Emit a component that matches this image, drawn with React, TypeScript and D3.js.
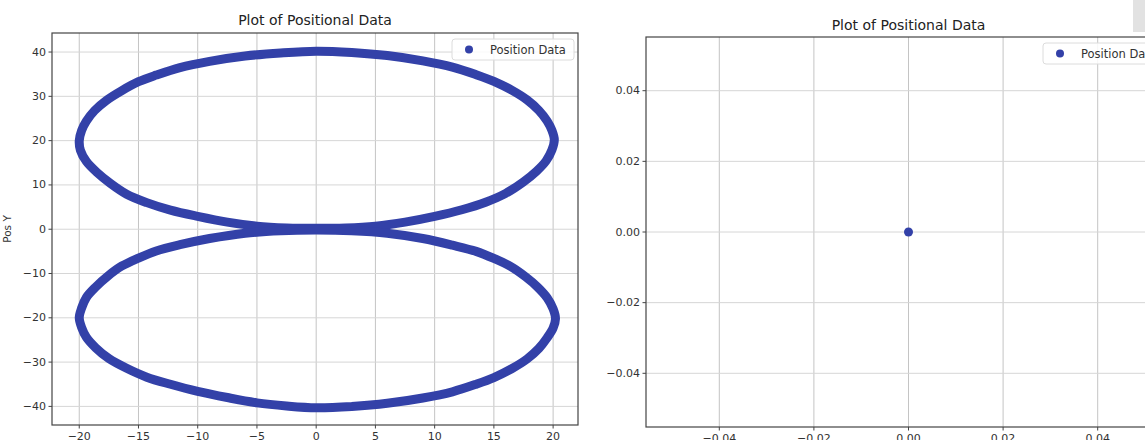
import React from "react";
import * as d3 from "d3";

// positional data: upper loop then lower loop
const upperX = [0, 3, 6, 9, 11.5, 13.5, 15, 16.5, 17.8, 18.8, 19.5, 19.9, 20.1, 19.9, 19.4, 18.6, 17.5, 16, 14.3, 12.3, 10, 7.5, 5, 2.5, 0, -2.5, -5, -7.5, -10, -12.3, -14.3, -16, -17.4, -18.5, -19.4, -19.9, -20, -19.8, -19.4, -18.7, -17.7, -16.4, -15, -13.5, -11.5, -9, -6, -3];
const upperY = [40.2, 39.9, 39.2, 38, 36.6, 34.9, 33.4, 31.4, 29.2, 26.8, 24.4, 22.3, 20.2, 17.9, 15.4, 13.1, 10.7, 8.1, 6.1, 4.4, 2.9, 1.6, 0.7, 0.3, 0.2, 0.3, 0.7, 1.6, 2.9, 4.3, 6, 7.9, 10.4, 12.8, 15.3, 17.8, 20, 22.3, 24.4, 26.8, 29.1, 31.3, 33.3, 34.8, 36.5, 37.9, 39.1, 39.8];
const lowerX = [0, 3, 6, 9, 11.5, 13.5, 15, 16.5, 17.8, 18.8, 19.5, 20, 20.2, 20, 19.5, 18.7, 17.7, 16.4, 15, 13.5, 11.5, 9, 6, 3, 0, -3, -6, -9, -11.5, -13.5, -15, -16.4, -17.6, -18.6, -19.4, -19.8, -20, -19.8, -19.4, -18.6, -17.5, -16, -14.3, -12.3, -10, -7.5, -5, -2.5];
const lowerY = [-40.3, -40, -39.3, -38.1, -36.7, -35, -33.5, -31.5, -29.3, -26.9, -24.5, -22.3, -20.2, -18, -15.5, -13.1, -10.8, -8.4, -6.6, -5, -3.6, -2.1, -0.9, -0.35, -0.2, -0.35, -0.9, -2.1, -3.5, -4.9, -6.5, -8.3, -10.6, -13, -15.4, -17.8, -20, -22.2, -24.4, -26.8, -29.2, -31.4, -33.4, -35, -36.6, -38, -39.2, -39.9];

// second plot: a single sample
const singleX = [0];
const singleY = [0];

const leftXTicks = [-20, -15, -10, -5, 0, 5, 10, 15, 20];
const leftYTicks = [-40, -30, -20, -10, 0, 10, 20, 30, 40];
const rightTicks = [-0.04, -0.02, 0, 0.02, 0.04];

const title = "Plot of Positional Data";
const legendLabel = "Position Data";
const yLabel = "Pos Y";

const dotColor = "#3341a8";
const font = "DejaVu Sans, sans-serif";

const fmtMinus = (s: string) => s.replace("-", "\u2212");

type PanelProps = {
  box: { left: number; right: number; top: number; bottom: number };
  xDomain: [number, number];
  yDomain: [number, number];
  xTicks: number[];
  yTicks: number[];
  fmt: (v: number) => string;
  legendX: number;
  legendY: number;
  titleY: number;
  ylabel?: string;
  children: (x: d3.ScaleLinear<number, number>, y: d3.ScaleLinear<number, number>) => React.ReactNode;
};

const Panel = (props: PanelProps) => {
  const { box, xDomain, yDomain, xTicks, yTicks, fmt, legendX, legendY, titleY } = props;
  const x = d3.scaleLinear().domain(xDomain).range([box.left, box.right]);
  const y = d3.scaleLinear().domain(yDomain).range([box.bottom, box.top]);
  const clipId = "clip" + Math.round(box.left);

  return (
    <g>
      <defs>
        <clipPath id={clipId}>
          <rect x={box.left} y={box.top} width={box.right - box.left} height={box.bottom - box.top} />
        </clipPath>
      </defs>
      <rect x={box.left} y={box.top} width={box.right - box.left} height={box.bottom - box.top} fill="#fff" />
      {/* grid */}
      {xTicks.map((t) => (
        <line key={"gx" + t} x1={x(t)} x2={x(t)} y1={box.top} y2={box.bottom} stroke="#c4c4c4" strokeWidth={1} />
      ))}
      {yTicks.map((t) => (
        <line key={"gy" + t} x1={box.left} x2={box.right} y1={y(t)} y2={y(t)} stroke="#d6d6d6" strokeWidth={1} />
      ))}
      <g clipPath={`url(#${clipId})`}>{props.children(x, y)}</g>
      {/* frame */}
      <rect x={box.left} y={box.top} width={box.right - box.left} height={box.bottom - box.top} fill="none" stroke="#444" strokeWidth={1.2} />
      {/* ticks */}
      {xTicks.map((t) => (
        <g key={"tx" + t}>
          <line x1={x(t)} x2={x(t)} y1={box.bottom} y2={box.bottom + 3.5} stroke="#444" />
          <text x={x(t)} y={box.bottom + 7} dominantBaseline="hanging" textAnchor="middle" fontSize={11} fill="#333" fontFamily={font}>
            {fmtMinus(fmt(t))}
          </text>
        </g>
      ))}
      {yTicks.map((t) => (
        <g key={"ty" + t}>
          <line x1={box.left - 3.5} x2={box.left} y1={y(t)} y2={y(t)} stroke="#444" />
          <text x={box.left - 6} y={y(t)} dominantBaseline="central" textAnchor="end" fontSize={11} fill="#333" fontFamily={font}>
            {fmtMinus(fmt(t))}
          </text>
        </g>
      ))}
      <text x={(box.left + box.right) / 2} y={titleY} textAnchor="middle" dominantBaseline="central" fontSize={14} fill="#222" fontFamily={font}>
        {title}
      </text>
      {props.ylabel && (
        <text transform={`translate(7,${(box.top + box.bottom) / 2}) rotate(-90)`} textAnchor="middle" dominantBaseline="central" fontSize={10.5} fill="#333" fontFamily={font}>
          {props.ylabel}
        </text>
      )}
      {/* legend */}
      <g transform={`translate(${legendX},${legendY})`}>
        <rect x={0} y={0} width={122} height={21} rx={3} fill="#fff" fillOpacity={0.85} stroke="#dcdcdc" />
        <circle cx={17} cy={10.5} r={4} fill={dotColor} />
        <text x={38} y={10.5} dominantBaseline="central" fontSize={11.5} fill="#333" fontFamily={font}>
          {legendLabel}
        </text>
      </g>
    </g>
  );
};

export default function App() {
  const loops = [
    upperX.map((v, i) => [v, upperY[i]] as [number, number]),
    lowerX.map((v, i) => [v, lowerY[i]] as [number, number]),
  ];

  return (
    <svg width={1145} height={440} style={{ position: "absolute", left: 0, top: 0, background: "#fff" }}>
      <Panel
        box={{ left: 52, right: 578, top: 33, bottom: 425 }}
        xDomain={[-22.3, 22.1]}
        yDomain={[-44.2, 44.3]}
        xTicks={leftXTicks}
        yTicks={leftYTicks}
        fmt={(v) => String(v)}
        legendX={452}
        legendY={39}
        titleY={20}
        ylabel={yLabel}
      >
        {(x, y) => {
          const line = d3
            .line<[number, number]>()
            .x((d) => x(d[0]))
            .y((d) => y(d[1]))
            .curve(d3.curveCatmullRomClosed);
          return loops.map((pts, i) => (
            <path key={i} d={line(pts) || ""} fill="none" stroke={dotColor} strokeWidth={9} strokeLinejoin="round" />
          ));
        }}
      </Panel>
      <Panel
        box={{ left: 646, right: 1171, top: 37, bottom: 427 }}
        xDomain={[-0.0555, 0.0555]}
        yDomain={[-0.0552, 0.0552]}
        xTicks={rightTicks}
        yTicks={rightTicks}
        fmt={d3.format(".2f")}
        legendX={1043}
        legendY={43}
        titleY={25}
      >
        {(x, y) =>
          singleX.map((v, i) => <circle key={i} cx={x(v)} cy={y(singleY[i])} r={4.5} fill={dotColor} />)
        }
      </Panel>
      <rect x={1133} y={0} width={12} height={32} fill="#e2e2e2" />
    </svg>
  );
}
